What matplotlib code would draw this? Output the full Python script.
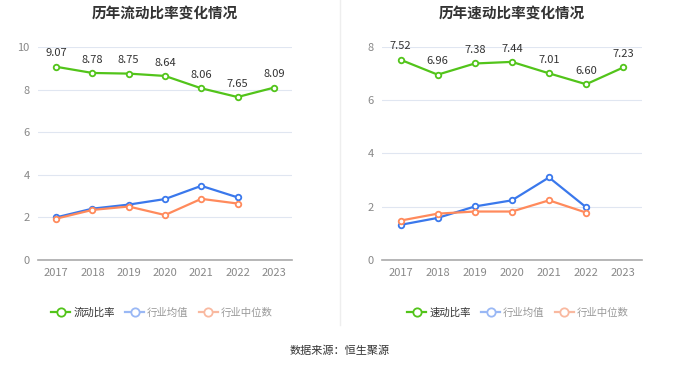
import matplotlib.pyplot as plt
from matplotlib.lines import Line2D

plt.rcParams['font.family'] = ['Noto Sans CJK SC', 'DejaVu Sans']

years = ["2017", "2018", "2019", "2020", "2021", "2022", "2023"]

# 流动比率
current_ratio = [9.07, 8.78, 8.75, 8.64, 8.06, 7.65, 8.09]
current_avg = [2.00, 2.41, 2.60, 2.86, 3.48, 2.94]
current_med = [1.94, 2.35, 2.51, 2.11, 2.87, 2.65]

# 速动比率
quick_ratio = [7.52, 6.96, 7.38, 7.44, 7.01, 6.60, 7.23]
quick_avg = [1.32, 1.58, 2.01, 2.24, 3.10, 1.98]
quick_med = [1.48, 1.74, 1.82, 1.82, 2.24, 1.78]

GREEN = "#52c41a"
BLUE = "#3a78ec"
ORANGE = "#ff8a5c"

fig = plt.figure(figsize=(6.8, 3.67), dpi=100)


def draw(ax, main, avg, med, ymax, title):
    x = list(range(len(years)))
    kw = dict(lw=1.6, marker='o', ms=4, mfc='white', mew=1.3, zorder=3)
    ax.plot(x[:len(avg)], avg, color=BLUE, **kw)
    ax.plot(x[:len(med)], med, color=ORANGE, **kw)
    ax.plot(x, main, color=GREEN, **kw)
    for xi, v in zip(x, main):
        ax.annotate(f"{v:.2f}", (xi, v), xytext=(0, 6), textcoords='offset points',
                    ha='center', va='bottom', fontsize=8, color='#333333')
    ax.set_xlim(-0.5, len(years) - 0.5)
    ax.set_ylim(0, ymax)
    ax.set_yticks(range(0, ymax + 1, 2))
    ax.set_xticks(x)
    ax.set_xticklabels(years)
    ax.grid(axis='y', color='#e0e6f1', lw=0.8)
    ax.set_axisbelow(True)
    for s in ['top', 'right', 'left']:
        ax.spines[s].set_visible(False)
    ax.spines['bottom'].set_color('#aaaaaa')
    ax.spines['bottom'].set_linewidth(1.2)
    ax.tick_params(axis='both', length=0, labelsize=8, colors='#888888', pad=6)
    ax.set_title(title, fontsize=10.5, fontweight='bold', color='#333333', pad=21)


ax1 = fig.add_axes([0.0559, 0.2916, 0.3735, 0.5804])
ax2 = fig.add_axes([0.5618, 0.2916, 0.382, 0.5804])
draw(ax1, current_ratio, current_avg, current_med, 10, "历年流动比率变化情况")
draw(ax2, quick_ratio, quick_avg, quick_med, 8, "历年速动比率变化情况")

# 分隔线
fig.add_artist(Line2D([0.5, 0.5], [1 - 325 / 367, 1.0], color='#eeeeee', lw=1))


def legend(cx, label):
    handles = [
        Line2D([], [], color=GREEN, marker='o', mfc='white', ms=6, mew=1.3, lw=1.6),
        Line2D([], [], color="#9ab8f5", marker='o', mfc='white', ms=6, mew=1.3, lw=1.6),
        Line2D([], [], color="#f9b9a0", marker='o', mfc='white', ms=6, mew=1.3, lw=1.6),
    ]
    leg = fig.legend(handles, [label, "行业均值", "行业中位数"], loc='center',
                     bbox_to_anchor=(cx, 1 - 313 / 367), ncol=3, frameon=False,
                     fontsize=7.5, handlelength=1.8, handletextpad=0.3, columnspacing=1.0)
    for t, c in zip(leg.get_texts(), ['#333333', '#999999', '#999999']):
        t.set_color(c)


legend(162 / 680, "流动比率")
legend(518 / 680, "速动比率")

fig.text(0.5, 1 - 351 / 367, "数据来源：恒生聚源", ha='center', va='center',
         fontsize=8, color='#333333')

fig.savefig("out.png", dpi=100)
